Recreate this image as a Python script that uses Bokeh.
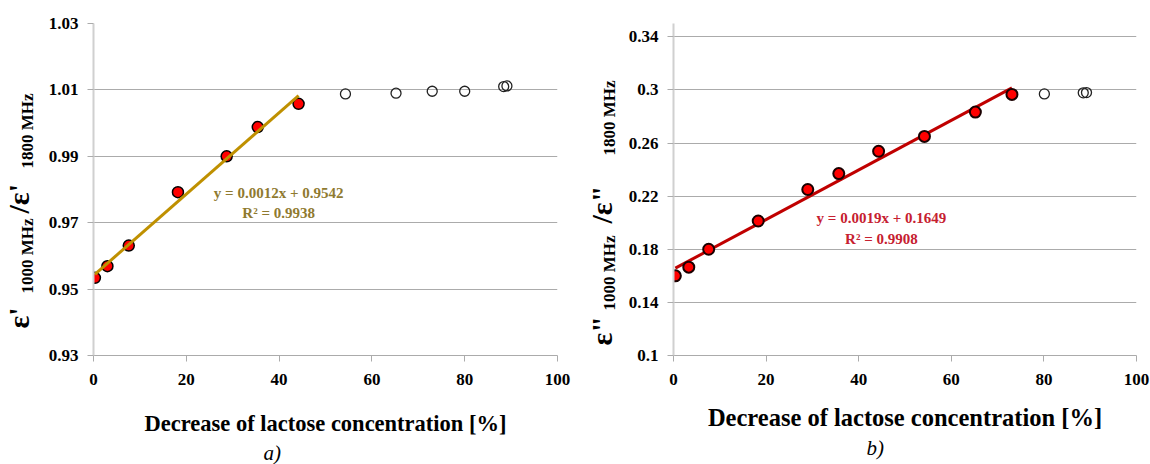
import math
import numpy as np
from bokeh.plotting import figure
from bokeh.models import Label, FixedTicker, Range1d, Title
from bokeh.layouts import row
from bokeh.embed import file_html
from bokeh.resources import INLINE

# ---------------- data: panel a ----------------
a_fit_x = [0.3, 3.0, 7.6, 18.2, 28.7, 35.4, 44.2]
a_fit_y = [0.9534, 0.9569, 0.9631, 0.9792, 0.9900, 0.9988, 1.0058]
a_rest_x = [54.3, 65.2, 73.0, 80.0, 88.4, 89.1]
a_rest_y = [1.0088, 1.0090, 1.0096, 1.0096, 1.0110, 1.0112]
a_yticks = [0.93, 0.95, 0.97, 0.99, 1.01, 1.03]
a_ytick_labels = ["0.93", "0.95", "0.97", "0.99", "1.01", "1.03"]
a_eq = "y = 0.0012x + 0.9542"
a_r2 = "R² = 0.9938"

# ---------------- data: panel b ----------------
b_fit_x = [0.4, 3.3, 7.6, 18.3, 29.0, 35.7, 44.3, 54.2, 65.2, 73.1]
b_fit_y = [0.160, 0.1665, 0.180, 0.2013, 0.225, 0.237, 0.2538, 0.265, 0.2833, 0.2966]
b_rest_x = [80.1, 88.5, 89.2]
b_rest_y = [0.297, 0.2978, 0.298]
b_yticks = [0.10, 0.14, 0.18, 0.22, 0.26, 0.30, 0.34]
b_ytick_labels = ["0.1", "0.14", "0.18", "0.22", "0.26", "0.3", "0.34"]
b_eq = "y = 0.0019x + 0.1649"
b_r2 = "R² = 0.9908"

x_ticks = [0, 20, 40, 60, 80, 100]
x_title = "Decrease of lactose concentration [%]"

FONT = "Liberation Serif"
GRID = "#ABABAB"
H = 464
FRAME_BOTTOM = 355  # shared (aligned) frame bottom in the row


def base_fig(width, ylo, yhi, yticks, ylabels, bl, br, bt, bb, title_size, title_standoff):
    p = figure(width=width, height=H, output_backend="svg", toolbar_location=None,
               x_range=Range1d(0, 100), y_range=Range1d(ylo, yhi),
               min_border_left=bl, min_border_right=br, min_border_top=bt, min_border_bottom=bb)
    p.outline_line_color = None
    p.background_fill_color = "white"
    p.border_fill_color = "white"
    p.xgrid.grid_line_color = None
    p.ygrid.grid_line_color = GRID
    p.ygrid.grid_line_width = 1
    p.xaxis.ticker = FixedTicker(ticks=x_ticks)
    p.yaxis.ticker = FixedTicker(ticks=yticks)
    p.yaxis.major_label_overrides = {t: l for t, l in zip(yticks, ylabels)}
    for ax in (p.xaxis, p.yaxis):
        ax.minor_tick_line_color = None
        ax.major_tick_in = 0
        ax.major_tick_out = 6
        ax.major_label_text_font = FONT
        ax.major_label_text_font_style = "bold"
        ax.major_label_text_font_size = "17px"
        ax.major_label_text_color = "black"
    p.xaxis.axis_line_color = GRID
    p.xaxis.major_tick_line_color = GRID
    p.yaxis.axis_line_color = "#D0D0D0"
    p.yaxis.axis_line_width = 2
    p.yaxis.major_tick_line_color = GRID
    p.xaxis.major_label_standoff = 12
    p.yaxis.major_label_standoff = 9
    p.xaxis.axis_label = x_title
    p.xaxis.axis_label_text_font = FONT
    p.xaxis.axis_label_text_font_style = "bold"
    p.xaxis.axis_label_text_font_size = title_size
    p.xaxis.axis_label_text_color = "black"
    p.xaxis.axis_label_standoff = title_standoff
    return p


def caption(p, txt, offset):
    p.add_layout(Title(text=txt, align="left", offset=offset, standoff=0,
                       text_font=FONT, text_font_style="italic", text_font_size="21px",
                       text_color="black"), "below")


def ylabel_fig(pieces):
    f = figure(width=45, height=H, output_backend="svg", toolbar_location=None,
               x_axis_type=None, y_axis_type=None, x_range=Range1d(0, 1), y_range=Range1d(0, 1),
               min_border=0)
    f.outline_line_color = None
    f.grid.grid_line_color = None
    f.background_fill_color = "white"
    f.border_fill_color = "white"
    for (txt, px, py, size) in pieces:
        f.add_layout(Label(x=px, y=FRAME_BOTTOM - py, x_units="screen", y_units="screen", text=txt,
                           angle=math.pi / 2, text_font=FONT, text_font_style="bold",
                           text_font_size=size, text_color="black",
                           text_align="left", text_baseline="alphabetic"))
    return f


# ---------------- panel a ----------------
pa = base_fig(530, 0.93, 1.03, a_yticks, a_ytick_labels, 47, 18, 23, H - 355, "22.5px", 23)
pa.scatter(a_fit_x, a_fit_y, size=11, fill_color="#FF0000", line_color="black", line_width=1.5)
pa.scatter(a_rest_x, a_rest_y, size=10, fill_color=None, line_color="#222222", line_width=1.3)
ka, ba = np.polyfit(a_fit_x, a_fit_y, 1)
ax_line = np.array([min(a_fit_x), max(a_fit_x)])
pa.line(ax_line, ka * ax_line + ba, line_color="#BF9000", line_width=3)
for txt, yy in ((a_eq, 0.9788), (a_r2, 0.9730)):
    pa.add_layout(Label(x=39.9, y=yy, text=txt, text_font=FONT, text_font_style="bold",
                        text_font_size="15px", text_color="#8F7A30",
                        text_align="center", text_baseline="alphabetic"))
caption(pa, "a)", 170)
ya = ylabel_fig([("ε'", 18, 328, "30px"), ("1000 MHz", 27, 293, "17px"),
                 ("/ε'", 18, 213, "30px"), ("1800 MHz", 27, 168, "17px")])

# ---------------- panel b ----------------
pb = base_fig(530, 0.10, 0.35, b_yticks, b_ytick_labels, 53, 14, 23, H - 356, "24.5px", 16)
kb, bb_ = np.polyfit(b_fit_x, b_fit_y, 1)
bx_line = np.array([min(b_fit_x), max(b_fit_x)])
pb.line(bx_line, kb * bx_line + bb_, line_color="#C00000", line_width=3)
pb.scatter(b_fit_x, b_fit_y, size=11, fill_color="#FF0000", line_color="#1a0000", line_width=2)
pb.scatter(b_rest_x, b_rest_y, size=10, fill_color=None, line_color="#222222", line_width=1.3)
for txt, yy in ((b_eq, 0.2035), (b_r2, 0.1878)):
    pb.add_layout(Label(x=44.9, y=yy, text=txt, text_font=FONT, text_font_style="bold",
                        text_font_size="15px", text_color="#C62030",
                        text_align="center", text_baseline="alphabetic"))
caption(pb, "b)", 193)
yb = ylabel_fig([('ε"', 26, 345, "30px"), ("1000 MHz", 34, 310, "17px"),
                 ('/ε"', 26, 223, "30px"), ("1800 MHz", 34, 155, "17px")])

layout = row(ya, pa, yb, pb)
open("out.html", "w").write(file_html(layout, INLINE))
